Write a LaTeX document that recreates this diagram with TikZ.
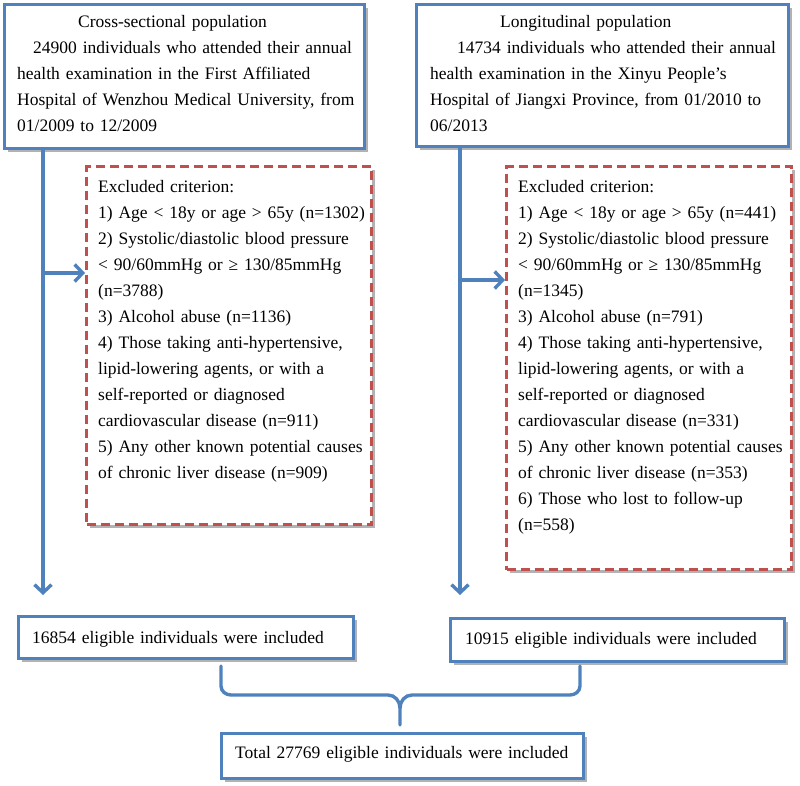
\documentclass[tikz,border=0pt]{standalone}
\usepackage{fontspec}
\setmainfont{Liberation Serif}
\usetikzlibrary{arrows.meta,shadows}
\definecolor{myblue}{HTML}{4F81BD}
\definecolor{myred}{HTML}{C0504D}
\begin{document}
\begin{tikzpicture}[x=1pt,y=-1pt,
  sh/.style={drop shadow={shadow xshift=3pt,shadow yshift=-3pt,fill=black,opacity=0.3}},
  bluebox/.style={draw=myblue,line width=3.4pt,fill=white,sh,inner sep=0pt,anchor=north west},
  exbox/.style={draw=myred,line width=3.2pt,dash pattern=on 9pt off 5pt,fill=white,sh,inner sep=0pt,anchor=north west},
  txt/.style={font=\fontsize{17.5}{26}\selectfont,align=left,text width=#1,inner sep=0pt,anchor=base west},
  conn/.style={draw=myblue,line width=3.4pt},
  arr/.style={conn,-{Straight Barb[length=8pt,width=17pt]}}
]
\useasboundingbox (0,0) rectangle (800,786);

% top boxes
\node[bluebox,minimum width=360pt,minimum height=144pt] (topL) at (3,3) {};
\node[txt=345pt] (topLt) at (17,28) {\hspace*{61pt}Cross-sectional population\\
\hspace*{16pt}24900 individuals who attended their annual\\
health examination in the First Affiliated\\
Hospital of Wenzhou Medical University, from\\
01/2009 to 12/2009};

\node[bluebox,minimum width=372pt,minimum height=142pt] (topR) at (415,3) {};
\node[txt=355pt] (topRt) at (430,28) {\hspace*{70pt}Longitudinal population\\
\hspace*{27pt}14734 individuals who attended their annual\\
health examination in the Xinyu People’s\\
Hospital of Jiangxi Province, from 01/2010 to\\
06/2013};

% exclusion boxes
\node[exbox,minimum width=285pt,minimum height=358pt] (exL) at (85,165) {};
\node[txt=270pt] (exLt) at (98,193) {Excluded criterion:\\
1) Age < 18y or age > 65y (n=1302)\\
2) Systolic/diastolic blood pressure\\
< 90/60mmHg or ≥ 130/85mmHg\\
(n=3788)\\
3) Alcohol abuse (n=1136)\\
4) Those taking anti-hypertensive,\\
lipid-lowering agents, or with a\\
self-reported or diagnosed\\
cardiovascular disease (n=911)\\
5) Any other known potential causes\\
of chronic liver disease (n=909)};

\node[exbox,minimum width=285pt,minimum height=403pt] (exR) at (505,165) {};
\node[txt=270pt] (exRt) at (518,193) {Excluded criterion:\\
1) Age < 18y or age > 65y (n=441)\\
2) Systolic/diastolic blood pressure\\
< 90/60mmHg or ≥ 130/85mmHg\\
(n=1345)\\
3) Alcohol abuse (n=791)\\
4) Those taking anti-hypertensive,\\
lipid-lowering agents, or with a\\
self-reported or diagnosed\\
cardiovascular disease (n=331)\\
5) Any other known potential causes\\
of chronic liver disease (n=353)\\
6) Those who lost to follow-up\\
(n=558)};

% eligible boxes
\node[bluebox,minimum width=335pt,minimum height=42pt] (botL) at (17,615) {};
\node[txt=320pt] (botLt) at (32,643) {16854 eligible individuals were included};
\node[bluebox,minimum width=334pt,minimum height=43pt] (botR) at (449,617) {};
\node[txt=320pt] (botRt) at (465,644) {10915 eligible individuals were included};

\node[bluebox,minimum width=362pt,minimum height=45pt] (tot) at (220,732) {};
\node[txt=345pt] (tott) at (235,758) {Total 27769 eligible individuals were included};

% connectors
\coordinate (tipL) at (43,595);
\coordinate (tipR) at (460,595);
\draw[arr] (tipL |- topL.south) -- (tipL);
\draw[arr] (tipR |- topR.south) -- (tipR);
\coordinate (brL) at (43,273);
\coordinate (brR) at (460,280);
\draw[arr] (brL) -- (brL -| exL.west);
\draw[arr] (brR) -- (brR -| exR.west);

% brace
\coordinate (bl) at (221,666);
\coordinate (br) at (580,666);
\coordinate (bm) at (400,725);
\draw[conn,line cap=round] (bl) -- (221,686) to[out=-90,in=180] (231,695) -- (388,695) to[out=0,in=90] (400,708) -- (bm);
\draw[conn,line cap=round] (br) -- (580,686) to[out=-90,in=0] (570,695) -- (412,695) to[out=180,in=90] (400,708);
\end{tikzpicture}
\end{document}
